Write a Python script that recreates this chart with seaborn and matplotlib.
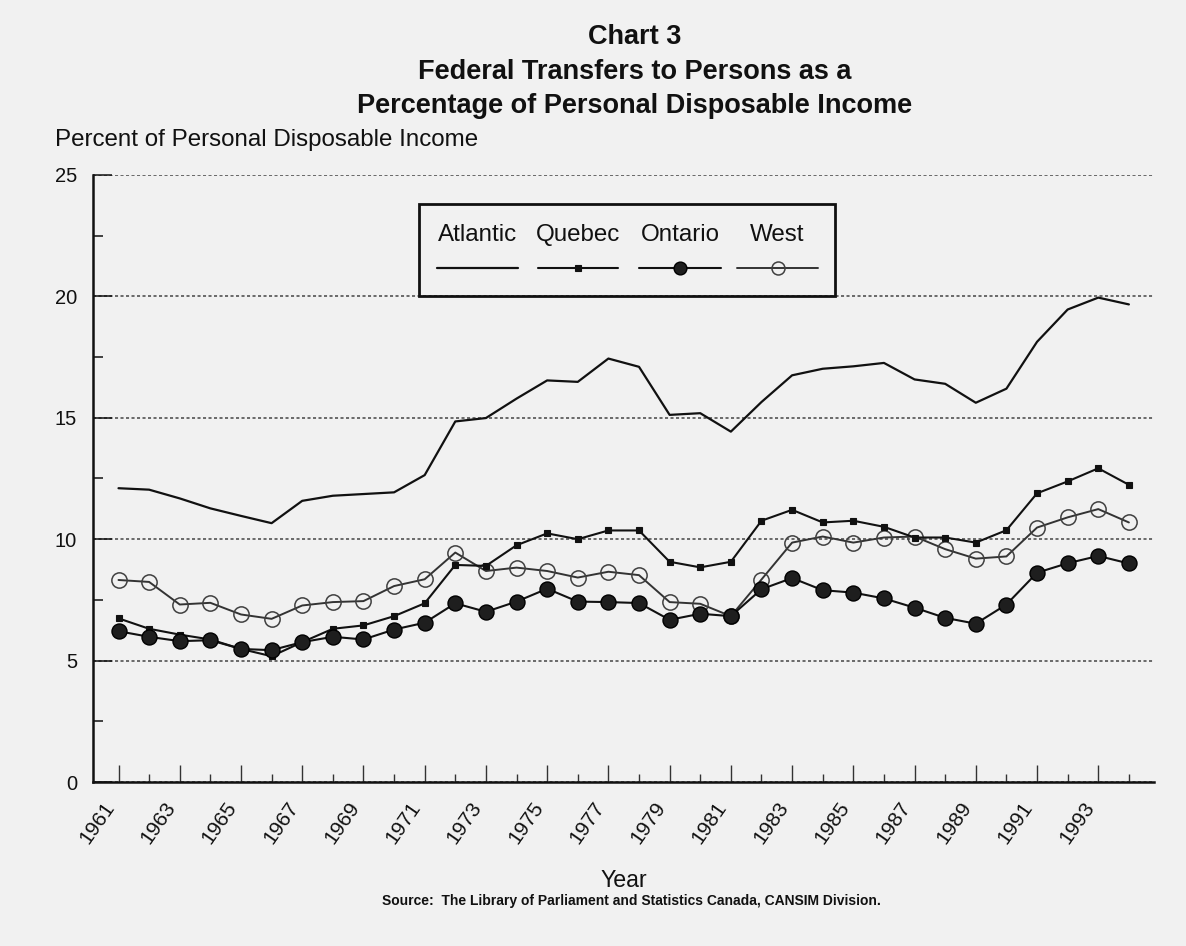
import numpy as np
import pandas as pd
import matplotlib
matplotlib.use("Agg")
import matplotlib.pyplot as plt
from matplotlib.lines import Line2D
from matplotlib.patches import Rectangle
from matplotlib.transforms import ScaledTranslation
from matplotlib.ticker import MultipleLocator, FixedLocator, NullFormatter
import seaborn as sns

# ---- data -------------------------------------------------------------
years = list(range(1961, 1995))

atlantic = [12.10, 12.04, 11.68, 11.27, 10.96, 10.66, 11.58, 11.79, 11.86, 11.93,
            12.64, 14.85, 14.99, 15.79, 16.54, 16.48, 17.44, 17.10, 15.12, 15.19,
            14.43, 15.65, 16.75, 17.02, 17.12, 17.26, 16.58, 16.40, 15.62, 16.20,
            18.13, 19.46, 19.95, 19.67]

quebec = [6.74, 6.31, 6.07, 5.87, 5.48, 5.18, 5.76, 6.31, 6.45, 6.83,
          7.36, 8.94, 8.90, 9.75, 10.24, 10.00, 10.36, 10.36, 9.07, 8.84,
          9.07, 10.76, 11.21, 10.69, 10.76, 10.51, 10.07, 10.07, 9.86, 10.37,
          11.89, 12.38, 12.92, 12.24]

ontario = [6.21, 5.98, 5.80, 5.84, 5.48, 5.43, 5.76, 5.98, 5.87, 6.28,
           6.56, 7.36, 7.01, 7.43, 7.96, 7.43, 7.41, 7.37, 6.68, 6.93,
           6.83, 7.94, 8.40, 7.90, 7.80, 7.56, 7.18, 6.76, 6.52, 7.31,
           8.62, 9.01, 9.31, 9.00]

west = [8.32, 8.24, 7.31, 7.38, 6.90, 6.72, 7.27, 7.41, 7.45, 8.07,
        8.35, 9.45, 8.69, 8.83, 8.69, 8.42, 8.66, 8.52, 7.41, 7.34,
        6.83, 8.34, 9.86, 10.11, 9.86, 10.07, 10.11, 9.59, 9.20, 9.29,
        10.48, 10.90, 11.24, 10.69]

region_names = ["Atlantic", "Quebec", "Ontario", "West"]
major_years = list(range(1961, 1995, 2))
minor_years = list(range(1962, 1995, 2))

df = pd.DataFrame({"Year": years, "Atlantic": atlantic, "Quebec": quebec,
                   "Ontario": ontario, "West": west})

# ---- styling ----------------------------------------------------------
sns.set_style("ticks")
paper = "#f1f1f1"
ink = "#111111"
plt.rcParams["font.family"] = ["Liberation Sans", "DejaVu Sans"]
plt.rcParams["figure.facecolor"] = paper
plt.rcParams["axes.facecolor"] = paper

series_style = {
    "Atlantic": dict(color=ink, lw=1.6, marker=None),
    "West": dict(color="#333333", lw=1.4, marker="o", markersize=11,
                 markerfacecolor="none", markeredgecolor="#404040",
                 markeredgewidth=1.1),
    "Quebec": dict(color=ink, lw=1.5, marker="s", markersize=5,
                   markerfacecolor=ink, markeredgecolor=ink,
                   markeredgewidth=0.8),
    "Ontario": dict(color=ink, lw=1.5, marker="o", markersize=10.8,
                    markerfacecolor="#1e1e1e", markeredgecolor="#000000",
                    markeredgewidth=1.0),
}

W, H = 1186, 946
fig = plt.figure(figsize=(W / 100, H / 100), dpi=100)
ax = fig.add_axes([93 / W, 1 - 782 / H, (1154 - 93) / W, (782 - 175) / H])

for name in ["Atlantic", "West", "Quebec", "Ontario"]:
    st = dict(series_style[name])
    if st["marker"] is None:
        st.pop("marker")
    sns.lineplot(data=df, x="Year", y=name, ax=ax, legend=False, **st)

# ---- axes -------------------------------------------------------------
ax.set_xlim(1960.167, 1994.82)
ax.set_ylim(0, 25)
for side in ["top", "right"]:
    ax.spines[side].set_visible(False)
for side in ["left", "bottom"]:
    ax.spines[side].set_linewidth(1.8)
    ax.spines[side].set_color(ink)

ax.yaxis.set_major_locator(MultipleLocator(5))
ax.yaxis.set_minor_locator(MultipleLocator(2.5))
ax.xaxis.set_major_locator(FixedLocator(major_years))
ax.xaxis.set_minor_locator(FixedLocator(minor_years))
ax.xaxis.set_minor_formatter(NullFormatter())

ax.tick_params(axis="y", which="major", direction="in", length=14, width=1.1,
               color=ink, labelsize=14.5, pad=11.5, labelcolor=ink)
ax.tick_params(axis="y", which="minor", direction="in", length=7, width=1.1,
               color=ink)
ax.tick_params(axis="x", which="major", direction="in", length=12, width=1.0,
               color="#333333", labelsize=15, pad=16, labelcolor=ink)
ax.tick_params(axis="x", which="minor", direction="in", length=6, width=1.0,
               color="#333333")
shift = ScaledTranslation(-8 / 100, 0, fig.dpi_scale_trans)
for lab in ax.get_xticklabels():
    lab.set_rotation(55)
    lab.set_ha("right")
    lab.set_va("center")
    lab.set_rotation_mode("anchor")
    lab.set_transform(lab.get_transform() + shift)

ax.yaxis.grid(True, which="major", linestyle=(0, (2.0, 1.6)), color="#444444",
              linewidth=1.1)
ax.set_axisbelow(True)
ax.set_xlabel("")
ax.set_ylabel("")

# ---- titles and captions ------------------------------------------------
cx = 635 / W
title_kw = dict(ha="center", va="baseline", fontsize=19.5, fontweight="bold",
                color=ink)
fig.text(cx, 1 - 44 / H, "Chart 3", **title_kw)
fig.text(cx, 1 - 79 / H, "Federal Transfers to Persons as a", **title_kw)
fig.text(cx, 1 - 113 / H, "Percentage of Personal Disposable Income", **title_kw)

fig.text(55 / W, 1 - 146 / H, "Percent of Personal Disposable Income",
         ha="left", va="baseline", fontsize=17.4, color=ink)
fig.text(624 / W, 1 - 887 / H, "Year", ha="center", va="baseline",
         fontsize=16.7, color=ink)
fig.text(631 / W, 1 - 905 / H,
         "Source:  The Library of Parliament and Statistics Canada, CANSIM Division.",
         ha="center", va="baseline", fontsize=10, fontweight="bold", color=ink)

# ---- legend: labels above sample lines -----------------------------------
box = Rectangle((419 / W, 1 - 296 / H), 416 / W, 92 / H, transform=fig.transFigure,
                fill=False, edgecolor=ink, linewidth=2.0)
fig.add_artist(box)
legend_cols = [(437, 518), (538, 618), (639, 721), (737, 818)]
for name, (x0, x1) in zip(region_names, legend_cols):
    mid = (x0 + x1) / 2
    fig.text(mid / W, 1 - 241 / H, name, ha="center", va="baseline",
             fontsize=17.4, color=ink)
    st = dict(series_style[name])
    marker = st.pop("marker")
    color, lw = st.pop("color"), st.pop("lw")
    fig.add_artist(Line2D([x0 / W, x1 / W], [1 - 268 / H] * 2,
                          transform=fig.transFigure, color=color, lw=lw))
    if marker is not None:
        st["markersize"] = st["markersize"] * 0.85
        fig.add_artist(Line2D([mid / W], [1 - 268 / H], transform=fig.transFigure,
                              linestyle="none", marker=marker, **st))

fig.savefig("out.png", dpi=100, facecolor=paper)
